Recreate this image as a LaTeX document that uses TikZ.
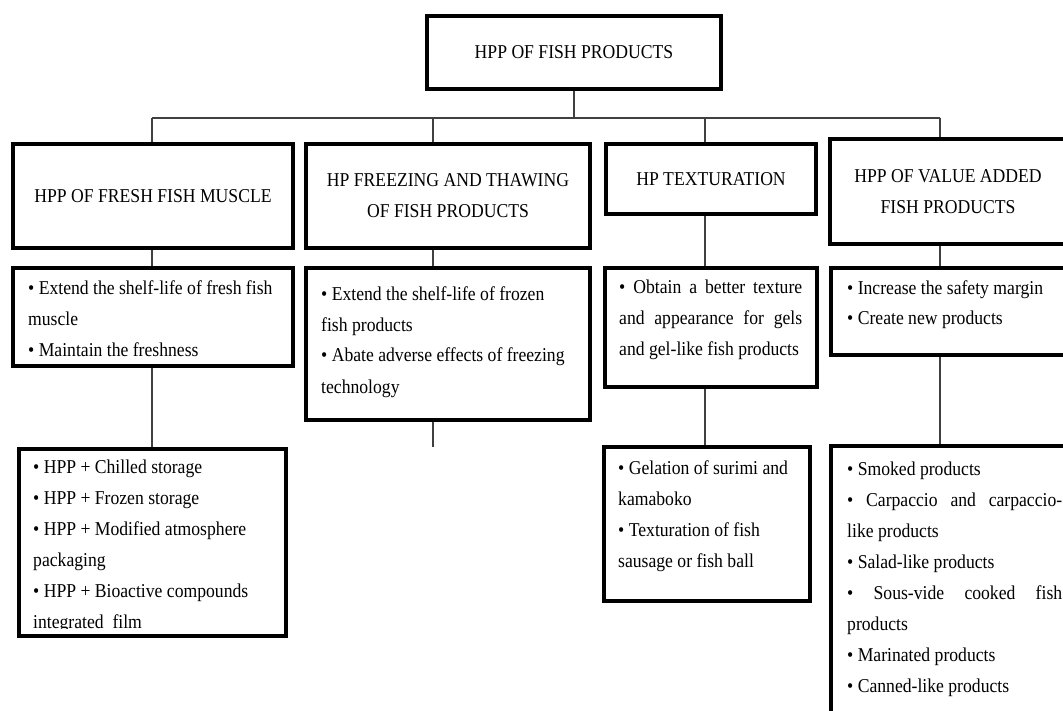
\documentclass[tikz,border=0pt]{standalone}
\usepackage{fontspec}
\setmainfont{Liberation Serif}[FakeStretch=0.9]
\newcommand{\spread}[2]{\makebox[#1][s]{#2}}
\tikzset{
  box/.style={draw, line width=4pt, inner sep=0pt, align=center,
    font=\fontsize{19.6pt}{31pt}\selectfont},
  body/.style={anchor=north west, inner sep=0pt, align=left,
    font=\fontsize{19.6pt}{31pt}\selectfont},
  link/.style={draw=black!75, line width=1.4pt},
}
\begin{document}
\begin{tikzpicture}[x=1pt, y=-1pt]
  \path[use as bounding box] (0,0) rectangle (1063,711);
  \clip (0,0) rectangle (1063,711);

  % top
  \node[box, minimum width=294pt, minimum height=73pt] (hpp) at (574,52.5) {HPP OF FISH PRODUCTS};

  % second row
  \node[box, minimum width=280pt, minimum height=104pt] (fresh) at (153,196) {HPP OF FRESH FISH MUSCLE};
  \node[box, minimum width=284pt, minimum height=104pt] (freez) at (448,196) {HP FREEZING AND THAWING\\OF FISH PRODUCTS};
  \node[box, minimum width=210pt, minimum height=70pt] (textur) at (711,179) {HP TEXTURATION};
  \node[box, minimum width=236pt, minimum height=105pt] (value) at (948,191.5) {HPP OF VALUE ADDED\\FISH PRODUCTS};

  % aims
  \node[box, minimum width=280pt, minimum height=98pt] (freshaim) at (153,317) {};
  \node[box, minimum width=284pt, minimum height=152pt] (freezaim) at (448,344) {};
  \node[box, minimum width=212pt, minimum height=119pt] (texturaim) at (711,327.5) {};
  \node[box, minimum width=239pt, minimum height=87pt] (valueaim) at (950.5,311.5) {};

  \node[body] (freshaimtxt) at (28,280) {• Extend the shelf-life of fresh fish\\muscle\\• Maintain the freshness};
  \node[body] (freezaimtxt) at (321,286) {• Extend the shelf-life of frozen\\fish products\\• Abate adverse effects of freezing\\technology};
  \node[body] (texturaimtxt) at (619,280) {\spread{183pt}{• Obtain a better texture}\\\spread{183pt}{and appearance for gels}\\and gel-like fish products};
  \node[body] (valueaimtxt) at (847,280) {• Increase the safety margin\\• Create new products};

  % uses
  \node[box, minimum width=267pt, minimum height=187pt] (freshuse) at (152.5,542.5) {};
  \node[box, minimum width=206pt, minimum height=154pt] (textururse) at (707,524) {};
  \node[box, minimum width=239pt, minimum height=294pt] (valueuse) at (950.5,593) {};

  \begin{scope}
    \clip (19,449) rectangle (286,628);
    \node[body] (freshusetxt) at (33,460) {• HPP + Chilled storage\\• HPP + Frozen storage\\• HPP + Modified atmosphere\\packaging\\• HPP + Bioactive compounds\\integrated~ film};
  \end{scope}
  \node[body] (texturusetxt) at (618,460) {• Gelation of surimi and\\kamaboko\\• Texturation of fish\\sausage or fish ball};
  \node[body] (valueusetxt) at (847,462) {• Smoked products\\\spread{215pt}{• Carpaccio and carpaccio-}\\like products\\• Salad-like products\\\spread{215pt}{• Sous-vide cooked fish}\\products\\• Marinated products\\• Canned-like products};

  % connectors
  \coordinate (busL) at (152,118);
  \coordinate (busR) at (940,118);
  \coordinate (dropB) at (433,118);
  \coordinate (dropC) at (705,118);
  \coordinate (freezend) at (433,447);

  \draw[link] (hpp.south) -- (hpp.south |- busL);
  \draw[link] (busL) -- (busR);
  \draw[link] (busL) -- (busL |- fresh.north);
  \draw[link] (dropB) -- (dropB |- freez.north);
  \draw[link] (dropC) -- (dropC |- textur.north);
  \draw[link] (busR) -- (busR |- value.north);

  \draw[link] (busL |- fresh.south) -- (busL |- freshaim.north);
  \draw[link] (dropB |- freez.south) -- (dropB |- freezaim.north);
  \draw[link] (dropC |- textur.south) -- (dropC |- texturaim.north);
  \draw[link] (busR |- value.south) -- (busR |- valueaim.north);

  \draw[link] (busL |- freshaim.south) -- (busL |- freshuse.north);
  \draw[link] (dropB |- freezaim.south) -- (freezend);
  \draw[link] (dropC |- texturaim.south) -- (dropC |- textururse.north);
  \draw[link] (busR |- valueaim.south) -- (busR |- valueuse.north);
\end{tikzpicture}
\end{document}
